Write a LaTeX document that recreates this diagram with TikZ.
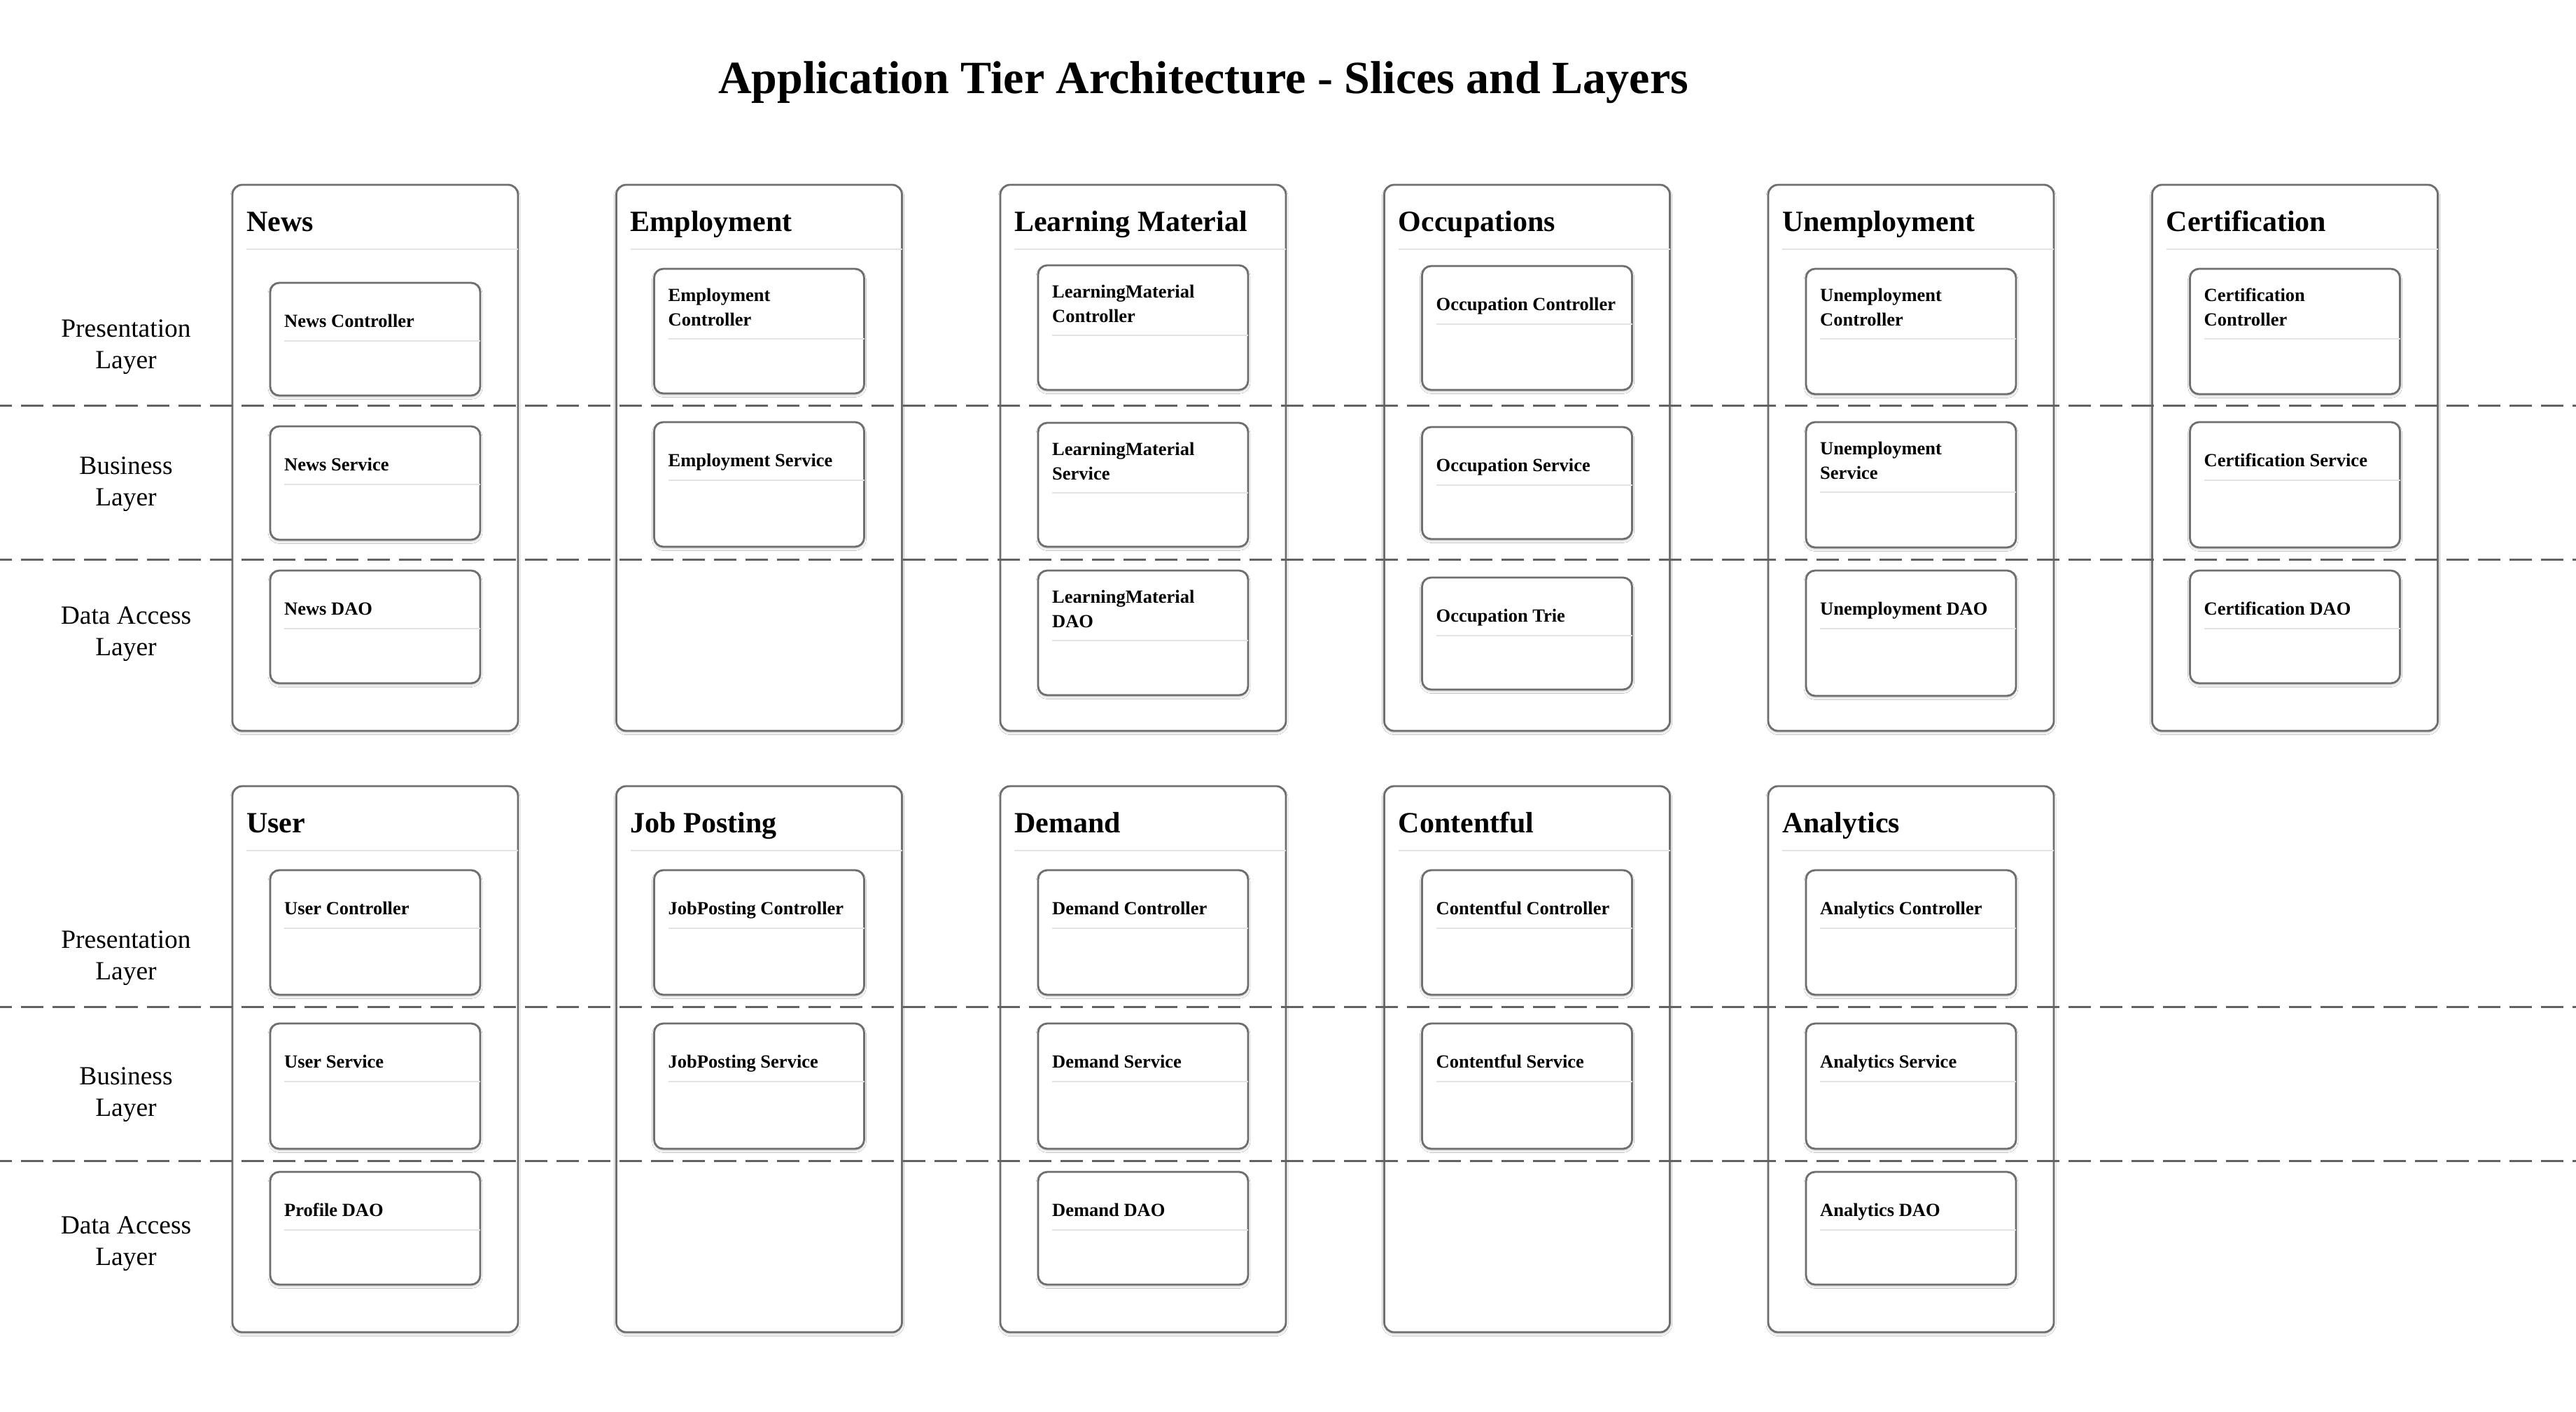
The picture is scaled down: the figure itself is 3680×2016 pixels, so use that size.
\documentclass[tikz,border=0pt]{standalone}
\usepackage{fontspec}
\setmainfont{Liberation Serif}
\usetikzlibrary{calc,shadows.blur}
\definecolor{edgegray}{HTML}{6E6E6E}
\definecolor{dashgray}{HTML}{626262}
\definecolor{sepgray}{HTML}{E3E3E3}
\tikzset{
  softshadow/.style={blur shadow={shadow xshift=0pt, shadow yshift=-2.5pt, shadow blur radius=3pt, shadow opacity=22}},
  slicebox/.style={draw=edgegray, line width=2.8pt, rounded corners=14pt, fill=white,
    minimum width=408pt, minimum height=780pt, inner sep=0pt, outer sep=0pt, anchor=north west, softshadow},
  compbox/.style={draw=edgegray, line width=2.8pt, rounded corners=13pt, fill=white,
    minimum width=300pt, inner sep=0pt, outer sep=0pt, anchor=north west, softshadow},
  slicetitle/.style={font=\fontsize{42}{50}\selectfont\bfseries, inner sep=0pt, anchor=base west},
  comptext/.style={font=\fontsize{26.5}{35}\selectfont\bfseries, inner sep=0pt, anchor=base west, align=left},
  layertext/.style={font=\fontsize{37.5}{45}\selectfont, inner sep=0pt, anchor=base, align=center},
  titletext/.style={font=\fontsize{66}{79}\selectfont\bfseries, inner sep=0pt, anchor=base},
  sepline/.style={draw=sepgray, line width=2pt},
  layerline/.style={draw=dashgray, line width=3pt, dash pattern=on 32pt off 13pt, dash phase=15pt},
}
% #5 = offset of the LAST text line's baseline below the box top
\newcommand\mkslice[4]{%
  \node[slicebox] (#1) at (#2,#3) {};
  \node[slicetitle] (#1-t) at ($(#1.north west)+(20,66)$) {#4};
  \draw[sepline] ($(#1.north west)+(20,92)$) -- ($(#1.north east)+(0,92)$);
}
\newcommand\mkcomp[7]{%
  \node[compbox, minimum height=#4pt] (#1) at (#2,#3) {};
  \node[comptext] (#1-t) at ($(#1.north west)+(20,#5)$) {#7};
  \draw[sepline] ($(#1.north west)+(20,#6)$) -- ($(#1.north east)+(0,#6)$);
}
\begin{document}
\begin{tikzpicture}[x=1pt,y=-1pt]
\fill[white] (0,0) rectangle (3680,2016);
\useasboundingbox (0,0) rectangle (3680,2016);

\node[titletext] (title) at (1719,133) {Application Tier Architecture - Slices and Layers};

% slices
\mkslice{news}{332}{264}{News}
\mkslice{empl}{880.5}{264}{Employment}
\mkslice{lm}{1429}{264}{Learning Material}
\mkslice{occ}{1977.5}{264}{Occupations}
\mkslice{unemp}{2526}{264}{Unemployment}
\mkslice{cert}{3074.5}{264}{Certification}
\mkslice{user}{332}{1123}{User}
\mkslice{job}{880.5}{1123}{Job Posting}
\mkslice{dem}{1429}{1123}{Demand}
\mkslice{cont}{1977.5}{1123}{Contentful}
\mkslice{ana}{2526}{1123}{Analytics}

% layer separators
\coordinate (l1a) at (0,579.5);   \coordinate (l1b) at (3680,579.5);
\coordinate (l2a) at (0,799);     \coordinate (l2b) at (3680,799);
\coordinate (l3a) at (0,1438.5);  \coordinate (l3b) at (3680,1438.5);
\coordinate (l4a) at (0,1658);    \coordinate (l4b) at (3680,1658);
\draw[layerline] (l1a) -- (l1b);
\draw[layerline] (l2a) -- (l2b);
\draw[layerline] (l3a) -- (l3b);
\draw[layerline] (l4a) -- (l4b);

% layer labels (anchored at the baseline of the last line)
\node[layertext] (pres1) at (180,526) {Presentation\\Layer};
\node[layertext] (bus1) at (180,722) {Business\\Layer};
\node[layertext] (dao1) at (180,936) {Data Access\\Layer};
\node[layertext] (pres2) at (180,1399) {Presentation\\Layer};
\node[layertext] (bus2) at (180,1594) {Business\\Layer};
\node[layertext] (dao2) at (180,1807) {Data Access\\Layer};

% row 1 components
\mkcomp{newsC}{386}{404}{161}{63}{83}{News Controller}
\mkcomp{newsS}{386}{609}{162}{63}{83}{News Service}
\mkcomp{newsD}{386}{815}{161}{63}{83}{News DAO}
\mkcomp{emplC}{934.5}{384}{178}{81}{100}{Employment\\Controller}
\mkcomp{emplS}{934.5}{603}{178}{63}{83}{Employment Service}
\mkcomp{lmC}{1483}{379}{178}{81}{100}{LearningMaterial\\Controller}
\mkcomp{lmS}{1483}{604}{177}{81}{100}{LearningMaterial\\Service}
\mkcomp{lmD}{1483}{815}{178}{81}{100}{LearningMaterial\\DAO}
\mkcomp{occC}{2031.5}{380}{177}{63}{83}{Occupation Controller}
\mkcomp{occS}{2031.5}{610}{160}{63}{83}{Occupation Service}
\mkcomp{occD}{2031.5}{825}{160}{63}{83}{Occupation Trie}
\mkcomp{unempC}{2580}{384}{179}{81}{100}{Unemployment\\Controller}
\mkcomp{unempS}{2580}{603}{179}{81}{100}{Unemployment\\Service}
\mkcomp{unempD}{2580}{815}{179}{63}{83}{Unemployment DAO}
\mkcomp{certC}{3128.5}{384}{179}{81}{100}{Certification\\Controller}
\mkcomp{certS}{3128.5}{603}{179}{63}{83}{Certification Service}
\mkcomp{certD}{3128.5}{815}{161}{63}{83}{Certification DAO}

% row 2 components
\mkcomp{userC}{386}{1243}{178}{63}{83}{User Controller}
\mkcomp{userS}{386}{1462}{179}{63}{83}{User Service}
\mkcomp{userD}{386}{1674}{161}{63}{83}{Profile DAO}
\mkcomp{jobC}{934.5}{1243}{178}{63}{83}{JobPosting Controller}
\mkcomp{jobS}{934.5}{1462}{179}{63}{83}{JobPosting Service}
\mkcomp{demC}{1483}{1243}{178}{63}{83}{Demand Controller}
\mkcomp{demS}{1483}{1462}{179}{63}{83}{Demand Service}
\mkcomp{demD}{1483}{1674}{161}{63}{83}{Demand DAO}
\mkcomp{contC}{2031.5}{1243}{178}{63}{83}{Contentful Controller}
\mkcomp{contS}{2031.5}{1462}{179}{63}{83}{Contentful Service}
\mkcomp{anaC}{2580}{1243}{178}{63}{83}{Analytics Controller}
\mkcomp{anaS}{2580}{1462}{179}{63}{83}{Analytics Service}
\mkcomp{anaD}{2580}{1674}{161}{63}{83}{Analytics DAO}
\end{tikzpicture}
\end{document}
